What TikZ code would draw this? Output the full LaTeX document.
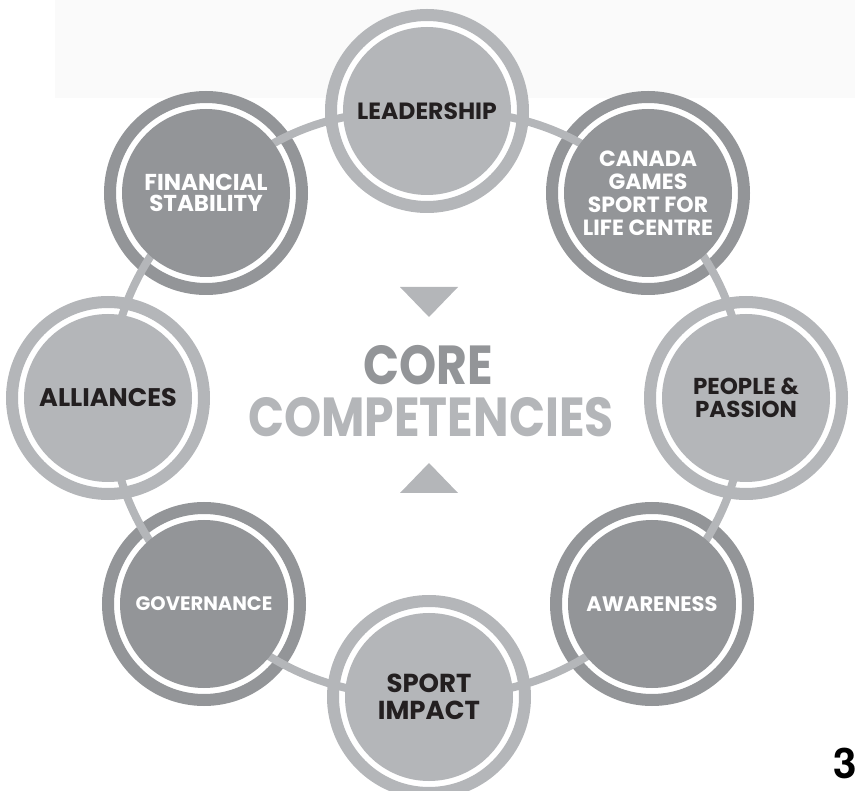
\documentclass[tikz,border=0pt]{standalone}
\usepackage{fontspec}
\setmainfont{Poppins}
\newfontfamily\geo[FakeStretch=0.86]{Poppins}
\newfontfamily\heros{TeX Gyre Heros}
\newcommand\fs[2]{\fontsize{#1}{#2}\selectfont}

\definecolor{ringlight}{HTML}{B4B6B9}
\definecolor{ringdark}{HTML}{939598}
\definecolor{inkblack}{HTML}{231F20}
\definecolor{paper}{HTML}{FAFAFA}

\pgfdeclarelayer{bg}
\pgfdeclarelayer{rings}
\pgfdeclarelayer{links}
\pgfsetlayers{bg,rings,links,main}

\begin{document}
\begin{tikzpicture}[x=1pt, y=-1pt, every node/.style={inner sep=0pt, align=center, font=\bfseries},
	disc/.style={circle, minimum size=168pt},
	lightdisc/.style={disc, fill=ringlight, text=inkblack},
	darkdisc/.style={disc, fill=ringdark, text=white},
	lbl/.style 2 args={font=\bfseries\fs{#1}{#2}},
	outer/.style={draw=#1, line width=12pt, fill=white},
	link/.style={draw=ringlight, line width=8pt}]

	\useasboundingbox (0,0) rectangle (855,791);
	\begin{pgfonlayer}{bg}
		\fill[paper] (55,0) rectangle (855,98);
	\end{pgfonlayer}

	% the eight competencies
	\node [lightdisc, lbl={23.5}{25}] (lead) at (427,111) {LEADERSHIP};
	\node [darkdisc, lbl={22}{23}] (cana) at (648,193) {CANADA\\GAMES\\SPORT FOR\\LIFE CENTRE};
	\node [lightdisc, lbl={23}{23}] (peop) at (746,398) {PEOPLE \&\\PASSION};
	\node [darkdisc, lbl={21}{22}] (awar) at (652,604) {AWARENESS};
	\node [lightdisc, lbl={26}{27}] (sprt) at (429,697) {SPORT\\IMPACT};
	\node [darkdisc, lbl={19.5}{20}] (govn) at (204,604) {GOVERNANCE};
	\node [lightdisc, lbl={25.5}{27}] (alli) at (108,398) {ALLIANCES};
	\node [darkdisc, lbl={23}{21}] (fina) at (206,193) {FINANCIAL\\STABILITY};

	\begin{pgfonlayer}{rings}
		\draw [outer=ringlight] (lead.center) circle [radius=96];
		\draw [outer=ringdark] (cana.center) circle [radius=96];
		\draw [outer=ringlight] (peop.center) circle [radius=96];
		\draw [outer=ringdark] (awar.center) circle [radius=96];
		\draw [outer=ringlight] (sprt.center) circle [radius=96];
		\draw [outer=ringdark] (govn.center) circle [radius=96];
		\draw [outer=ringlight] (alli.center) circle [radius=96];
		\draw [outer=ringdark] (fina.center) circle [radius=96];
	\end{pgfonlayer}

	\begin{pgfonlayer}{links}
		\draw [link] (lead.center) to[bend left=22] (cana.center);
		\draw [link] (cana.center) to[bend left=22] (peop.center);
		\draw [link] (peop.center) to[bend left=22] (awar.center);
		\draw [link] (awar.center) to[bend left=22] (sprt.center);
		\draw [link] (sprt.center) to[bend left=22] (govn.center);
		\draw [link] (govn.center) to[bend left=22] (alli.center);
		\draw [link] (alli.center) to[bend left=22] (fina.center);
		\draw [link] (fina.center) to[bend left=22] (lead.center);
	\end{pgfonlayer}

	% centre title
	\fill [ringlight] (400,287) -- (458,287) -- (429,317) -- cycle;
	\node [text=ringdark, font=\geo\bfseries\fs{55}{55}] (core) at (428,365) {CORE};
	\node [text=ringlight, font=\geo\bfseries\fs{55}{55}] (comp) at (431,417) {COMPETENCIES};
	\fill [ringlight] (400,493) -- (458,493) -- (429,463) -- cycle;

	\node [font=\heros\bfseries\fs{42}{42}] (page) at (845,763) {3};
\end{tikzpicture}
\end{document}
